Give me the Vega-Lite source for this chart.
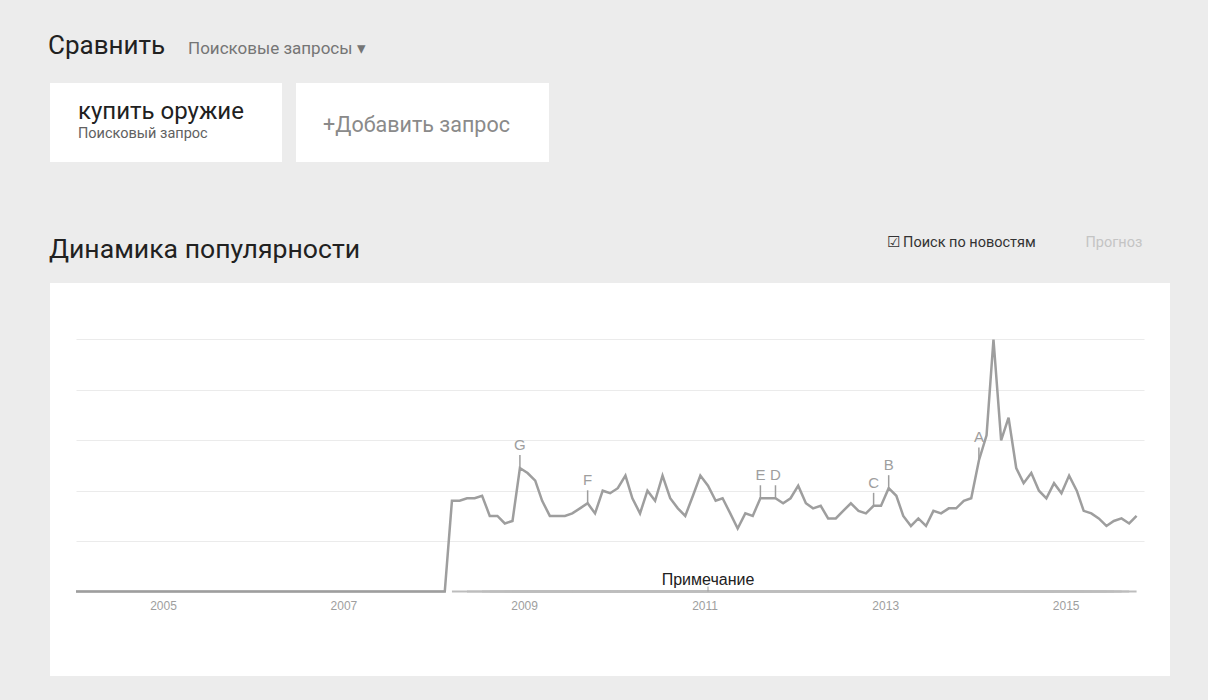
{
  "$schema": "https://vega.github.io/schema/vega-lite/v6.json",
  "background": "#ececec",
  "padding": {"left": 23, "top": 33, "right": 64, "bottom": 50},
  "spacing": 41,
  "config": {"view": {"stroke": null}},
  "title": {"text": "Сравнить", "anchor": "start", "dx": 25, "dy": 40, "offset": 0, "font": "Roboto", "fontSize": 26, "fontWeight": "normal", "color": "#212121", "baseline": "alphabetic"},
  "datasets": {
    "trend": [
      {"d":"2004-01-15","v":0},{"d":"2004-02-15","v":0},{"d":"2004-03-15","v":0},{"d":"2004-04-15","v":0},{"d":"2004-05-15","v":0},{"d":"2004-06-15","v":0},{"d":"2004-07-15","v":0},{"d":"2004-08-15","v":0},{"d":"2004-09-15","v":0},{"d":"2004-10-15","v":0},{"d":"2004-11-15","v":0},{"d":"2004-12-15","v":0},
      {"d":"2005-01-15","v":0},{"d":"2005-02-15","v":0},{"d":"2005-03-15","v":0},{"d":"2005-04-15","v":0},{"d":"2005-05-15","v":0},{"d":"2005-06-15","v":0},{"d":"2005-07-15","v":0},{"d":"2005-08-15","v":0},{"d":"2005-09-15","v":0},{"d":"2005-10-15","v":0},{"d":"2005-11-15","v":0},{"d":"2005-12-15","v":0},
      {"d":"2006-01-15","v":0},{"d":"2006-02-15","v":0},{"d":"2006-03-15","v":0},{"d":"2006-04-15","v":0},{"d":"2006-05-15","v":0},{"d":"2006-06-15","v":0},{"d":"2006-07-15","v":0},{"d":"2006-08-15","v":0},{"d":"2006-09-15","v":0},{"d":"2006-10-15","v":0},{"d":"2006-11-15","v":0},{"d":"2006-12-15","v":0},
      {"d":"2007-01-15","v":0},{"d":"2007-02-15","v":0},{"d":"2007-03-15","v":0},{"d":"2007-04-15","v":0},{"d":"2007-05-15","v":0},{"d":"2007-06-15","v":0},{"d":"2007-07-15","v":0},{"d":"2007-08-15","v":0},{"d":"2007-09-15","v":0},{"d":"2007-10-15","v":0},{"d":"2007-11-15","v":0},{"d":"2007-12-15","v":0},
      {"d":"2008-01-15","v":0},{"d":"2008-02-15","v":0},{"d":"2008-03-15","v":36},{"d":"2008-04-15","v":36},{"d":"2008-05-15","v":37},{"d":"2008-06-15","v":37},{"d":"2008-07-15","v":38},{"d":"2008-08-15","v":30},{"d":"2008-09-15","v":30},{"d":"2008-10-15","v":27},{"d":"2008-11-15","v":28},{"d":"2008-12-15","v":49,"ev":"G"},
      {"d":"2009-01-15","v":47},{"d":"2009-02-15","v":44},{"d":"2009-03-15","v":36},{"d":"2009-04-15","v":30},{"d":"2009-05-15","v":30},{"d":"2009-06-15","v":30},{"d":"2009-07-15","v":31},{"d":"2009-08-15","v":33},{"d":"2009-09-15","v":35,"ev":"F"},{"d":"2009-10-15","v":31},{"d":"2009-11-15","v":40},{"d":"2009-12-15","v":39},
      {"d":"2010-01-15","v":41},{"d":"2010-02-15","v":46},{"d":"2010-03-15","v":37},{"d":"2010-04-15","v":31},{"d":"2010-05-15","v":40},{"d":"2010-06-15","v":36},{"d":"2010-07-15","v":46},{"d":"2010-08-15","v":37},{"d":"2010-09-15","v":33},{"d":"2010-10-15","v":30},{"d":"2010-11-15","v":38},{"d":"2010-12-15","v":46},
      {"d":"2011-01-15","v":42,"note":"Примечание"},{"d":"2011-02-15","v":36},{"d":"2011-03-15","v":37},{"d":"2011-04-15","v":31},{"d":"2011-05-15","v":25},{"d":"2011-06-15","v":31},{"d":"2011-07-15","v":30},{"d":"2011-08-15","v":37,"ev":"E"},{"d":"2011-09-15","v":37},{"d":"2011-10-15","v":37,"ev":"D"},{"d":"2011-11-15","v":35},{"d":"2011-12-15","v":37},
      {"d":"2012-01-15","v":42},{"d":"2012-02-15","v":35},{"d":"2012-03-15","v":33},{"d":"2012-04-15","v":34},{"d":"2012-05-15","v":29},{"d":"2012-06-15","v":29},{"d":"2012-07-15","v":32},{"d":"2012-08-15","v":35},{"d":"2012-09-15","v":32},{"d":"2012-10-15","v":31},{"d":"2012-11-15","v":34,"ev":"C"},{"d":"2012-12-15","v":34},
      {"d":"2013-01-15","v":41,"ev":"B"},{"d":"2013-02-15","v":38},{"d":"2013-03-15","v":30},{"d":"2013-04-15","v":26},{"d":"2013-05-15","v":29},{"d":"2013-06-15","v":26},{"d":"2013-07-15","v":32},{"d":"2013-08-15","v":31},{"d":"2013-09-15","v":33},{"d":"2013-10-15","v":33},{"d":"2013-11-15","v":36},{"d":"2013-12-15","v":37},
      {"d":"2014-01-15","v":52,"ev":"A"},{"d":"2014-02-15","v":62},{"d":"2014-03-15","v":100},{"d":"2014-04-15","v":60},{"d":"2014-05-15","v":69},{"d":"2014-06-15","v":49},{"d":"2014-07-15","v":43},{"d":"2014-08-15","v":47},{"d":"2014-09-15","v":40},{"d":"2014-10-15","v":37},{"d":"2014-11-15","v":43},{"d":"2014-12-15","v":39},
      {"d":"2015-01-15","v":46},{"d":"2015-02-15","v":40},{"d":"2015-03-15","v":32},{"d":"2015-04-15","v":31},{"d":"2015-05-15","v":29},{"d":"2015-06-15","v":26},{"d":"2015-07-15","v":28},{"d":"2015-08-15","v":29},{"d":"2015-09-15","v":27},{"d":"2015-10-15","v":30}
    ],
    "query": [{"q":"купить оружие","kind":"Поисковый запрос"}],
    "add": [{"label":"+Добавить запрос"}]
  },
  "vconcat": [
    {
      "spacing": 14,
      "title": {"text": "Поисковые запросы ▾", "anchor": "start", "dx": 138, "offset": 3, "font": "Roboto", "fontSize": 17, "fontWeight": "normal", "color": "#757575", "baseline": "alphabetic"},
      "hconcat": [
        {
          "width": 180, "height": 27,
          "view": {"fill": "white", "stroke": "white", "strokeWidth": 52},
          "data": {"name": "query"},
          "layer": [
            {"mark": {"type": "text", "align": "left", "baseline": "alphabetic", "dx": -88, "dy": -3.5, "font": "Roboto", "fontSize": 24, "color": "#212121"}, "encoding": {"text": {"field": "q"}}},
            {"mark": {"type": "text", "align": "left", "baseline": "alphabetic", "dx": -88, "dy": 15.5, "font": "Roboto", "fontSize": 14.5, "color": "#616161"}, "encoding": {"text": {"field": "kind"}}}
          ]
        },
        {
          "width": 201, "height": 27,
          "view": {"fill": "white", "stroke": "white", "strokeWidth": 52},
          "data": {"name": "add"},
          "mark": {"type": "text", "align": "center", "baseline": "middle", "dx": -6, "dy": 3, "font": "Roboto", "fontSize": 21.5, "color": "#8a8a8a"},
          "encoding": {"text": {"field": "label"}}
        }
      ]
    },
    {
      "width": 1068, "height": 341,
      "view": {"fill": "white", "stroke": "white", "strokeWidth": 52},
      "title": {"text": "Динамика популярности", "anchor": "start", "dx": -22, "font": "Roboto", "fontSize": 26.6, "fontWeight": "normal", "color": "#212121", "baseline": "alphabetic", "offset": -51},
      "data": {"name": "trend"},
      "encoding": {
        "x": {"field": "d", "type": "temporal", "title": "Прогноз",
          "scale": {"type": "utc", "nice": false, "domain": [{"year": 2004, "month": 1, "date": 15, "utc": true}, {"year": 2015, "month": 11, "date": 14, "utc": true}]},
          "axis": {"title": "Прогноз", "values": [{"year": 2005, "month": 1, "date": 1, "utc": true}, {"year": 2007, "month": 1, "date": 1, "utc": true}, {"year": 2009, "month": 1, "date": 1, "utc": true}, {"year": 2011, "month": 1, "date": 1, "utc": true}, {"year": 2013, "month": 1, "date": 1, "utc": true}, {"year": 2015, "month": 1, "date": 1, "utc": true}],
            "format": "%Y", "offset": -58.5, "domain": false, "ticks": false, "grid": false, "labelColor": "#9e9e9e", "labelFont": "Liberation Sans", "labelFontSize": 12, "labelPadding": 9,
            "titleAngle": 0, "titleAlign": "left", "titleBaseline": "alphabetic", "titleX": 1009, "titleY": -345.5, "titleFont": "Roboto", "titleFontSize": 14.5, "titleFontWeight": "normal", "titleColor": "#c4c4c4"}},
        "y": {"field": "v", "type": "quantitative", "title": "☑  Поиск по новостям",
          "scale": {"domain": [-23.21, 112.1], "nice": false, "zero": false},
          "axis": {"values": [20, 40, 60, 80, 100], "labels": false, "ticks": false, "domain": false, "grid": true, "gridColor": "#ebebeb", "gridWidth": 1,
            "titleAngle": 0, "titleAlign": "left", "titleBaseline": "alphabetic", "titleX": 810, "titleY": -63, "titleFont": "Roboto", "titleFontSize": 14.5, "titleFontWeight": "normal", "titleColor": "#333333"}}
      },
      "layer": [
        {"mark": {"type": "rule", "color": "#bdbdbd", "strokeWidth": 2},
         "encoding": {"x": {"aggregate": "min", "field": "d", "type": "temporal", "title": "Прогноз"}, "x2": {"aggregate": "max", "field": "d"}, "y": {"datum": 0}}},
        {"mark": {"type": "line", "color": "#9e9e9e", "strokeWidth": 2.5}, "encoding": {}},
        {"transform": [{"filter": "isValid(datum.ev)"}],
         "mark": {"type": "rule", "color": "#9e9e9e", "strokeWidth": 1.5, "y2Offset": -13},
         "encoding": {"y2": {"field": "v"}}},
        {"transform": [{"filter": "isValid(datum.ev)"}],
         "mark": {"type": "text", "color": "#9e9e9e", "font": "Liberation Sans", "fontSize": 15, "baseline": "alphabetic", "dy": -18},
         "encoding": {"text": {"field": "ev"}}},
        {"transform": [{"filter": "isValid(datum.note)"}],
         "mark": {"type": "rule", "color": "#9e9e9e", "strokeWidth": 1, "y2Offset": -5},
         "encoding": {"y": {"datum": 0}, "y2": {"datum": 0}}},
        {"transform": [{"filter": "isValid(datum.note)"}],
         "mark": {"type": "text", "color": "#212121", "font": "Liberation Sans", "fontSize": 16, "baseline": "alphabetic", "dy": -7},
         "encoding": {"y": {"datum": 0}, "text": {"field": "note"}}}
      ]
    }
  ]
}
